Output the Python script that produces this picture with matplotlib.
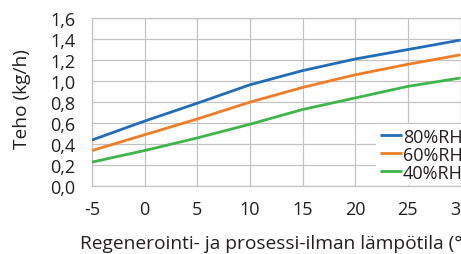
import matplotlib
matplotlib.use("Agg")
import matplotlib.pyplot as plt
from matplotlib.ticker import FuncFormatter

plt.rcParams['font.family'] = ['Open Sans', 'DejaVu Sans']
plt.rcParams['axes.unicode_minus'] = False

temps = [-5, 0, 5, 10, 15, 20, 25, 30]
rh80 = [0.44, 0.62, 0.79, 0.965, 1.10, 1.21, 1.30, 1.39]
rh60 = [0.34, 0.49, 0.64, 0.80, 0.94, 1.06, 1.16, 1.25]
rh40 = [0.23, 0.34, 0.46, 0.59, 0.73, 0.84, 0.95, 1.03]
series_labels = ['80%RH', '60%RH', '40%RH']
colors = ['#1f6db6', '#f07d26', '#3db54a']
xticks = [-5, 0, 5, 10, 15, 20, 25, 30]
yticks = [0.0, 0.2, 0.4, 0.6, 0.8, 1.0, 1.2, 1.4, 1.6]
xlabel = 'Regenerointi- ja prosessi-ilman lämpötila (°C)'
ylabel = 'Teho (kg/h)'

W, H = 461, 255
fig = plt.figure(figsize=(W / 100, H / 100), dpi=100)
left, right, top, bottom = 92, 460.5, 19, 187.3
ax = fig.add_axes([left / W, 1 - bottom / H, (right - left) / W, (bottom - top) / H])

for vals, lab, c in zip([rh80, rh60, rh40], series_labels, colors):
    ax.plot(temps, vals, color=c, lw=2.0, label=lab, solid_capstyle='butt', zorder=3)

ax.set_xlim(-5, 30)
ax.set_ylim(0, 1.6)
ax.set_xticks(xticks)
ax.set_yticks(yticks)
ax.yaxis.set_major_formatter(FuncFormatter(lambda v, p: f'{v:.1f}'.replace('.', ',')))
ax.grid(True, color='#c3c3c3', lw=0.9)
ax.set_axisbelow(True)
for s in ax.spines.values():
    s.set_color('#c3c3c3')
    s.set_linewidth(0.9)
ax.tick_params(length=0, labelsize=13, colors='#231f20')
ax.tick_params(axis='y', pad=12)
ax.tick_params(axis='x', pad=10)

fig.text(80 / W, 1 - 244 / H, xlabel, ha='left', va='center', fontsize=13.8, color='#231f20')
fig.text(22 / W, 1 - 99 / H, ylabel, ha='center', va='center', rotation=90, fontsize=13.8, color='#231f20')

leg = ax.legend(loc='upper left', bbox_to_anchor=(376 / W, 1 - 125 / H), bbox_transform=fig.transFigure,
                borderaxespad=0, borderpad=0.2, frameon=True, fancybox=False, framealpha=1,
                facecolor='white', edgecolor='none', fontsize=13, handlelength=1.25,
                handletextpad=0.05, labelspacing=0.0)
for t in leg.get_texts():
    t.set_color('#231f20')

fig.savefig('out.png', dpi=100)
